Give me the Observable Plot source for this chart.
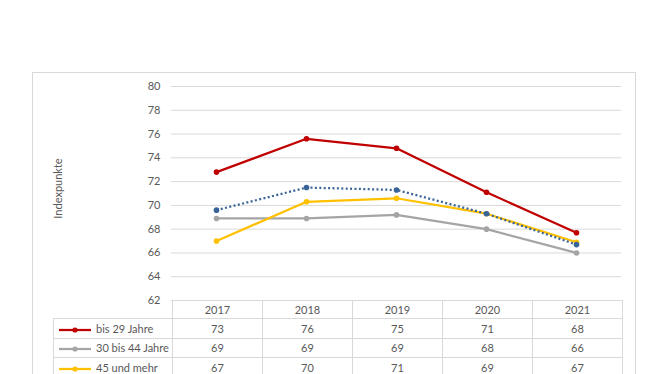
<!DOCTYPE html>
<html><head><meta charset="utf-8">
<script src="https://cdn.jsdelivr.net/npm/d3@7"></script>
<script src="https://cdn.jsdelivr.net/npm/@observablehq/plot@0.6"></script>
<style>
html,body{margin:0;padding:0;background:#fff;}
#wrap{position:relative;width:665px;height:374px;overflow:hidden;font-family:Lato,"Open Sans",sans-serif;}
#box{position:absolute;left:32px;top:72px;width:604px;height:400px;border:1px solid #d9d9d9;box-sizing:border-box;}
#chart{position:absolute;left:0;top:0;}
#tbl{position:absolute;left:53px;top:300px;border-collapse:collapse;font-size:11px;color:#595959;table-layout:fixed;width:569px;}
#tbl td{border:1px solid #d9d9d9;padding:0;text-align:center;white-space:nowrap;overflow:hidden;}
#tbl td.leg{text-align:left;padding-left:4px;}
#tbl td.leg svg{vertical-align:middle;margin-right:4px;}
</style></head>
<body><div id="wrap"><div id="box"></div><div id="chart"></div><table id="tbl"></table></div>
<script>
const years = ["2017","2018","2019","2020","2021"];
const seriesNames = ["bis 29 Jahre","30 bis 44 Jahre","45 und mehr","insgesamt"];
const bis29 = [72.8,75.6,74.8,71.1,67.7];
const von30bis44 = [68.9,68.9,69.2,68.0,66.0];
const ab45 = [67.0,70.3,70.6,69.3,66.9];
const gesamt = [69.6,71.5,71.3,69.3,66.7];
const colors = ["#c00000","#a5a5a5","#ffc000","#3a6498"];
const yTicks = [62,64,66,68,70,72,74,76,78,80];
const yLabel = "Indexpunkte";
const tableSeries = 3;

const seriesValues = [bis29, von30bis44, ab45, gesamt];
const data = seriesNames.flatMap((s,i)=>years.map((y,j)=>({series:s, year:y, value:seriesValues[i][j]})));

const marks = [
  Plot.gridY(yTicks,{stroke:"#d9d9d9", strokeOpacity:1, strokeWidth:1}),
  Plot.axisY(yTicks,{tickSize:0, tickPadding:11, fill:"#595959", label:null, fontSize:11}),
  Plot.text([yLabel],{frameAnchor:"left", textAnchor:"middle", rotate:-90, dx:-113, dy:-5, fill:"#595959", fontSize:11})
];
seriesNames.forEach((s,i)=>{
  const sub = data.filter(d=>d.series===s);
  marks.push(Plot.line(sub,{x:"year", y:"value", stroke:colors[i], strokeWidth:2.25,
    strokeDasharray: i===3 ? "2,2.4" : null, strokeLinecap: i===3 ? "butt" : "round"}));
  marks.push(Plot.dot(sub,{x:"year", y:"value", fill:colors[i], r:2.8}));
});

const plot = Plot.plot({
  width:665, height:301,
  marginLeft:171, marginRight:44, marginTop:86, marginBottom:1,
  x:{type:"point", domain:years, padding:0.5, axis:null},
  y:{domain:[62,80], axis:null},
  style:{fontFamily:"Lato, 'Open Sans', sans-serif", fontSize:"11px", color:"#595959", background:"transparent", overflow:"visible"},
  marks
});
document.getElementById("chart").appendChild(plot);

// data table
const tbl = document.getElementById("tbl");
let html = '<colgroup><col style="width:119px">' + years.map(()=>'<col style="width:90px">').join("") + '</colgroup>';
html += '<tr style="height:18px"><td style="border-top:none;border-left:none"></td>' + years.map(y=>`<td>${y}</td>`).join("") + '</tr>';
for (let i=0;i<tableSeries;i++){
  const key = `<svg width="34" height="8"><line x1="1" x2="33" y1="4" y2="4" stroke="${colors[i]}" stroke-width="2.25"/><circle cx="17" cy="4" r="2.6" fill="${colors[i]}"/></svg>`;
  html += `<tr style="height:19.5px"><td class="leg">${key}${seriesNames[i]}</td>` + seriesValues[i].map(v=>`<td>${Math.round(v)}</td>`).join("") + '</tr>';
}
tbl.innerHTML = html;
</script>
</body></html>
